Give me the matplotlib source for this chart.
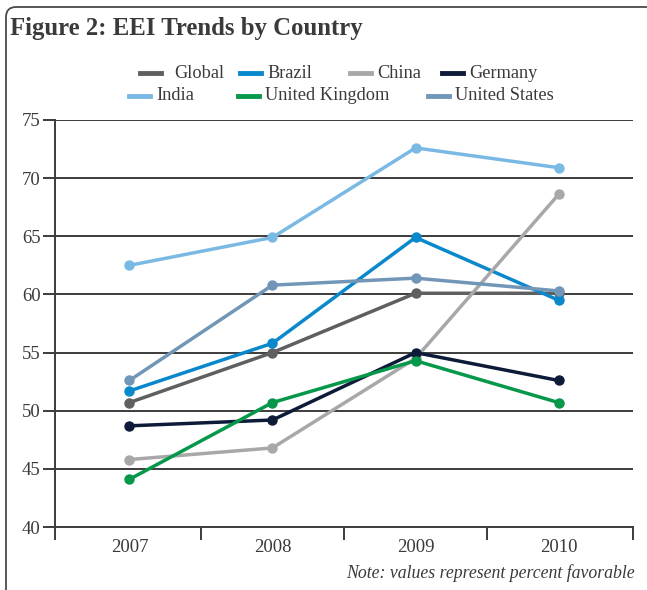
import matplotlib
matplotlib.use("Agg")
import matplotlib.pyplot as plt
from matplotlib.patches import PathPatch
from matplotlib.path import Path
from matplotlib.lines import Line2D

years = ["2007", "2008", "2009", "2010"]
y_ticks = [40, 45, 50, 55, 60, 65, 70, 75]

global_vals = [50.7, 55.0, 60.1, 60.1]
brazil = [51.7, 55.8, 64.9, 59.5]
china = [45.8, 46.8, 54.5, 68.6]
germany = [48.7, 49.2, 55.0, 52.6]
india = [62.5, 64.9, 72.6, 70.9]
uk = [44.1, 50.7, 54.3, 50.7]
us = [52.6, 60.8, 61.4, 60.3]

series = [
    ("Global", global_vals, "#5f5f61"),
    ("Brazil", brazil, "#0a88cc"),
    ("China", china, "#a8a8aa"),
    ("Germany", germany, "#0d1b38"),
    ("India", india, "#7bb9e5"),
    ("United Kingdom", uk, "#05984a"),
    ("United States", us, "#7296b8"),
]

plt.rcParams["font.family"] = ["Liberation Serif", "DejaVu Serif"]
text_color = "#3a3a3a"
W, H = 647, 590

fig = plt.figure(figsize=(W / 100, H / 100), dpi=100)
ax = fig.add_axes([55 / W, 63 / H, 578 / W, 407 / H])

# horizontal grid lines
for v in y_ticks[1:]:
    ax.axhline(v, color="#3c3c3c", lw=1.4, zorder=1)

x = list(range(len(years)))
for name, vals, color in series:
    ax.plot(x, vals, color=color, lw=2.5, marker="o", ms=6.5,
            solid_capstyle="round", zorder=3, label=name)

ax.set_xlim(-0.52, 3.52)
ax.set_ylim(40, 75)
ax.set_yticks(y_ticks)
ax.set_xticks(x)
ax.set_xticklabels(years)
ax.set_xticks([-0.52, 0.5, 1.5, 2.5, 3.52], minor=True)
ax.tick_params(axis="x", which="major", length=0, pad=9,
               labelsize=13.5, labelcolor=text_color)
ax.tick_params(axis="x", which="minor", length=9, width=1.4,
               color="#3c3c3c", direction="out")
ax.tick_params(axis="y", length=8.5, width=1.4, color="#3c3c3c",
               labelsize=13.5, labelcolor=text_color, pad=2)
for side in ["top", "right"]:
    ax.spines[side].set_visible(False)
for side in ["left", "bottom"]:
    ax.spines[side].set_color("#3c3c3c")
    ax.spines[side].set_linewidth(1.4)

# legend, two rows laid out by hand (handle start x, row y in pixels)
legend_pos = {
    "Global": (140, 73), "Brazil": (240, 73), "China": (350, 73),
    "Germany": (442, 73), "India": (129, 96), "United Kingdom": (238, 96),
    "United States": (428, 96),
}
for name, _, color in series:
    px, py = legend_pos[name]
    fy = 1 - py / H
    fig.add_artist(Line2D([px / W, (px + 21) / W], [fy, fy], color=color,
                          lw=3.5, transform=fig.transFigure))
    gap = 13 if name == "Global" else 6
    fig.text((px + 21 + gap) / W, fy, name, fontsize=13.2, color=text_color,
             ha="left", va="center")

fig.text(10 / W, 1 - 29 / H, "Figure 2: EEI Trends by Country", fontsize=17.8,
         fontweight="bold", color=text_color, va="center", ha="left")
fig.text(635 / W, 1 - 573 / H, "Note: values represent percent favorable",
         fontsize=12.8, style="italic", color=text_color, ha="right", va="center")

# frame: left and top edge with a rounded top-left corner
r = 10
top = H - 7
verts = [(6, -5), (6, top - r), (6, top), (6 + r, top), (W + 5, top)]
codes = [Path.MOVETO, Path.LINETO, Path.CURVE3, Path.CURVE3, Path.LINETO]
verts = [(vx / W, vy / H) for vx, vy in verts]
frame = PathPatch(Path(verts, codes), transform=fig.transFigure, fill=False,
                  edgecolor="#4a4a4a", lw=1.3)
fig.add_artist(frame)

fig.savefig("out.png", dpi=100)
